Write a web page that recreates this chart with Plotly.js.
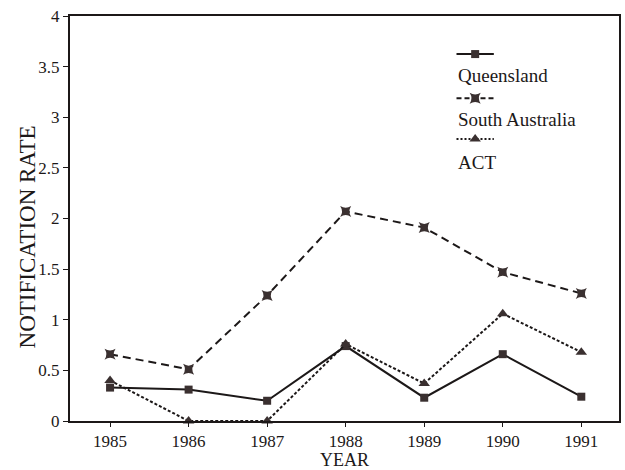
<!DOCTYPE html>
<html>
<head>
<meta charset="utf-8">
<script src="https://cdn.plot.ly/plotly-3.0.1.min.js"></script>
<style>html,body{margin:0;padding:0;background:#fff;}#chart{width:625px;height:470px;}</style>
</head>
<body>
<div id="chart"></div>
<script>
const years = [1985, 1986, 1987, 1988, 1989, 1990, 1991];
const queensland = [0.33, 0.31, 0.20, 0.74, 0.23, 0.66, 0.24];
const southAustralia = [0.66, 0.51, 1.24, 2.07, 1.91, 1.47, 1.26];
const act = [0.40, 0.00, 0.00, 0.76, 0.37, 1.06, 0.68];
const seriesNames = ['Queensland', 'South Australia', 'ACT'];
const yTicks = [0, 0.5, 1, 1.5, 2, 2.5, 3, 3.5, 4];
const yTickText = ['0', '0.5', '1', '1.5', '2', '2.5', '3', '3.5', '4'];

const ink = '#1c1818';
const mark = '#3a3030';
const font = 'Liberation Serif, Times New Roman, serif';

const styles = [
  {dash: 'solid', symbol: 'square', size: 8},
  {dash: '8px,5px', symbol: 'star-square', size: 10},
  {dash: '3px,2px', symbol: 'triangle-up', size: 10}
];
const values = [queensland, southAustralia, act];

const traces = values.map((v, i) => ({
  x: years, y: v, name: seriesNames[i], type: 'scatter', mode: 'lines+markers',
  line: {color: ink, width: 2, dash: styles[i].dash},
  marker: {color: mark, symbol: styles[i].symbol, size: styles[i].size},
  showlegend: false, cliponaxis: false
}));

// custom legend (sample line above label), drawn on an overlay axis in fractions
const legX = [0.704, 0.772];
const legY = [0.906, 0.797, 0.696];
const legTextY = [0.852, 0.744, 0.638];
legY.forEach((yy, i) => {
  traces.push({
    x: legX, y: [yy, yy], xaxis: 'x2', yaxis: 'y2', type: 'scatter', mode: 'lines',
    line: {color: ink, width: 2, dash: i === 0 ? 'solid' : (i === 1 ? '5px,3px' : '2px,2px')}, showlegend: false, hoverinfo: 'skip'
  });
  traces.push({
    x: [(legX[0] + legX[1]) / 2], y: [yy], xaxis: 'x2', yaxis: 'y2', type: 'scatter', mode: 'markers',
    marker: {color: mark, symbol: styles[i].symbol, size: styles[i].size}, showlegend: false, hoverinfo: 'skip'
  });
});

const annotations = seriesNames.map((n, i) => ({
  xref: 'paper', yref: 'paper', x: 0.703, y: legTextY[i], xanchor: 'left', yanchor: 'middle',
  text: n, showarrow: false, font: {family: font, size: 19, color: ink}
}));
annotations.push({
  xref: 'paper', yref: 'paper', x: -0.077, y: 0.455, xanchor: 'center', yanchor: 'middle',
  textangle: -90, text: 'NOTIFICATION RATE', showarrow: false,
  font: {family: font, size: 23, color: ink}
});

const layout = {
  width: 625, height: 470,
  margin: {l: 70, r: 6, t: 16, b: 49},
  paper_bgcolor: '#ffffff', plot_bgcolor: '#ffffff',
  font: {family: font, color: ink},
  showlegend: false,
  xaxis: {
    range: [1984.49, 1991.48], tickvals: years, ticktext: years.map(String),
    showgrid: false, zeroline: false, showline: true, mirror: true, linecolor: ink, linewidth: 2,
    ticks: 'outside', ticklen: 4, tickwidth: 1, tickcolor: ink,
    tickfont: {family: font, size: 17, color: ink},
    title: {text: 'YEAR', font: {family: font, size: 18, color: ink}, standoff: 2}
  },
  yaxis: {
    range: [0, 4], tickvals: yTicks, ticktext: yTickText,
    showgrid: false, zeroline: false, showline: true, mirror: true, linecolor: ink, linewidth: 2,
    ticks: 'outside', ticklen: 5, tickwidth: 1, tickcolor: ink,
    tickfont: {family: font, size: 17, color: ink}
  },
  xaxis2: {overlaying: 'x', range: [0, 1], visible: false, anchor: 'y2'},
  yaxis2: {overlaying: 'y', range: [0, 1], visible: false, anchor: 'x2'},
  annotations: annotations
};

Plotly.newPlot('chart', traces, layout, {staticPlot: true});
</script>
</body>
</html>
